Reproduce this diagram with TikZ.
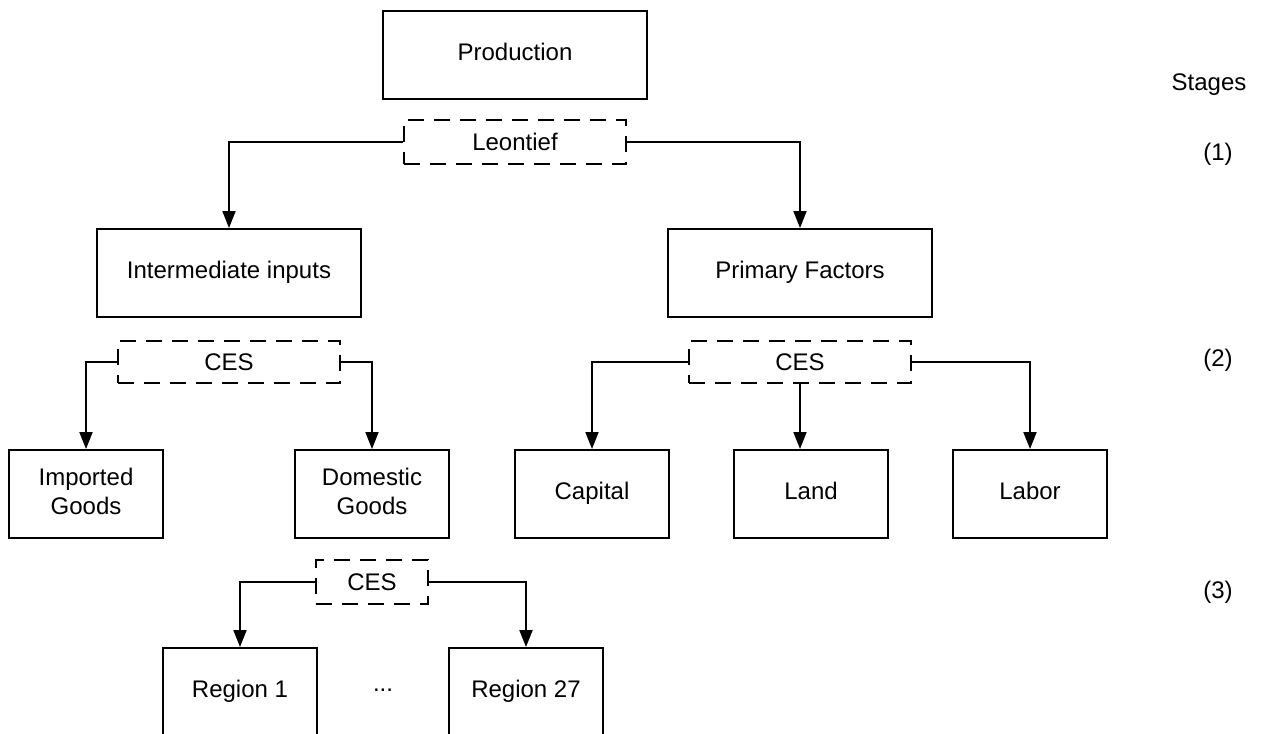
\documentclass[tikz,border=0pt]{standalone}
\usepackage{fontspec}
\setmainfont{Liberation Sans}
\usepackage{tikz}
\usetikzlibrary{arrows.meta}
\tikzset{box/.style={draw, line width=1pt, minimum width=132pt, minimum height=44pt, inner sep=0pt, align=center, text depth=3pt}, smallbox/.style={box, minimum width=77pt}, rule/.style={draw, dash pattern=on 8pt off 5pt, line width=1pt, minimum width=111pt, minimum height=22pt, inner sep=0pt}, arr/.style={line width=1pt, -{Triangle[length=8.5pt, width=6.5pt]}}}

\begin{document}
\begin{tikzpicture}[x=0.5pt, y=-0.5pt, font=\fontsize{12}{14.5}\selectfont]
      \useasboundingbox (0,0) rectangle (1273,733);
      \clip (0,0) rectangle (1273,733);

      \node [box] (prod) at (515,55) {Production};
      \node [rule] (leon) at (515,142) {Leontief};
      \node [box] (inter) at (229,273) {Intermediate inputs};
      \node [box] (prim) at (800,273) {Primary Factors};

      \node [rule, minimum height=21pt] (ces1) at (229,362) {CES};
      \node [rule, minimum height=21pt] (ces2) at (800,362) {CES};
      \node [smallbox] (imp) at (86,494) {Imported\\Goods};
      \node [smallbox] (dom) at (372,494) {Domestic\\Goods};
      \node [smallbox] (cap) at (592,494) {Capital};
      \node [smallbox] (land) at (811,494) {Land};
      \node [smallbox] (lab) at (1030,494) {Labor};

      \node [rule, minimum width=56pt] (ces3) at (372,582) {CES};
      \node [smallbox] (reg1) at (240,692) {Region 1};
      \node (dots) at (383,690) {...};
      \node [smallbox] (reg27) at (526,692) {Region 27};

      \node (stages) at (1209,85) {Stages};
      \node (st1) at (1218,154) {(1)};
      \node (st2) at (1218,360) {(2)};
      \node (st3) at (1218,592) {(3)};

      \draw [arr] (leon.west) -| (inter.north);
      \draw [arr] (leon.east) -| (prim.north);
      \draw [arr] (ces1.west) -| (imp.north);
      \draw [arr] (ces1.east) -| (dom.north);
      \draw [arr] (ces2.west) -| (cap.north);
      \draw [arr] (ces2.south) -- (ces2.south |- land.north);
      \draw [arr] (ces2.east) -| (lab.north);
      \draw [arr] (ces3.west) -| (reg1.north);
      \draw [arr] (ces3.east) -| (reg27.north);
    \end{tikzpicture}
\end{document}
